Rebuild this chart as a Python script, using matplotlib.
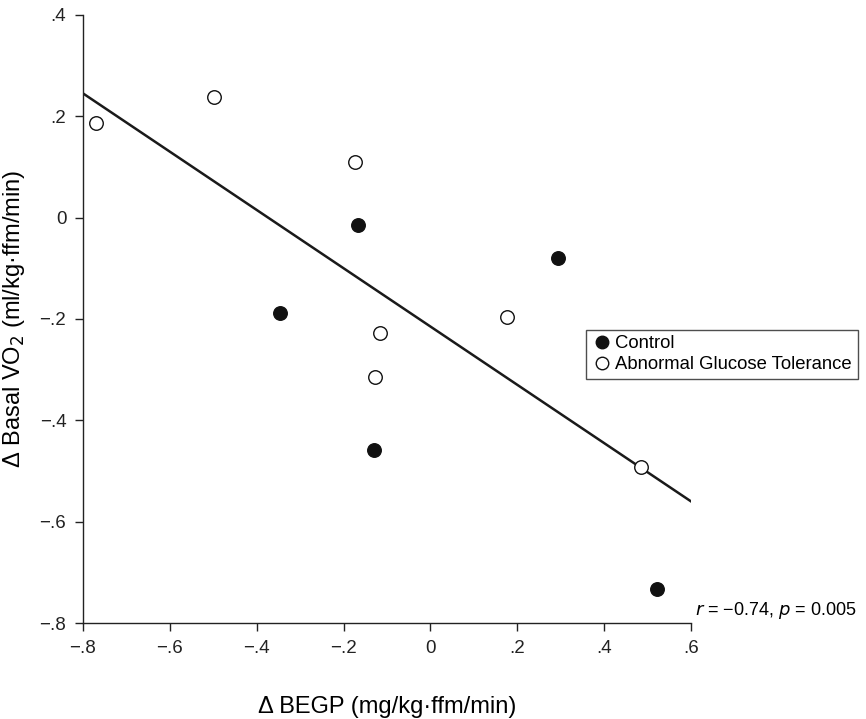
import matplotlib.pyplot as plt
from matplotlib.lines import Line2D

plt.rcParams['font.family'] = ['Liberation Sans', 'DejaVu Sans']

# data
control_x = [-0.167, -0.347, 0.294, -0.130, 0.521]
control_y = [-0.014, -0.189, -0.079, -0.459, -0.733]

agt_x = [-0.771, -0.498, -0.174, -0.116, -0.127, 0.176, 0.486]
agt_y = [0.187, 0.238, 0.110, -0.227, -0.315, -0.197, -0.493]

fit_x = [-0.8, 0.6]
fit_y = [0.245, -0.56]

xticks = [-0.8, -0.6, -0.4, -0.2, 0.0, 0.2, 0.4, 0.6]
xtick_labels = ['\u2212.8', '\u2212.6', '\u2212.4', '\u2212.2', '0', '.2', '.4', '.6']
yticks = [-0.8, -0.6, -0.4, -0.2, 0.0, 0.2, 0.4]
ytick_labels = ['\u2212.8', '\u2212.6', '\u2212.4', '\u2212.2', '0', '.2', '.4']

fig = plt.figure(figsize=(8.66, 7.19), dpi=100)
ax = fig.add_axes([0.0958, 0.1335, 0.7021, 0.8459])

ax.plot(fit_x, fit_y, color='#1a1a1a', lw=1.8, zorder=1)
ax.scatter(control_x, control_y, s=95, facecolor='#111111', edgecolor='#111111',
           lw=1.0, zorder=3)
ax.scatter(agt_x, agt_y, s=95, facecolor='white', edgecolor='#111111',
           lw=1.0, zorder=3)

ax.set_xlim(-0.8, 0.6)
ax.set_ylim(-0.8, 0.4)
ax.set_xticks(xticks)
ax.set_xticklabels(xtick_labels)
ax.set_yticks(yticks)
ax.set_yticklabels(ytick_labels)
ax.tick_params(direction='out', length=6, width=1, labelsize=13.5, pad=6,
               colors='#222222')
for s in ['top', 'right']:
    ax.spines[s].set_visible(False)
for s in ['left', 'bottom']:
    ax.spines[s].set_linewidth(1.0)
    ax.spines[s].set_color('#222222')

ax.set_xlabel('\u0394 BEGP (mg/kg\u00b7ffm/min)', fontsize=17, labelpad=28)
ax.set_ylabel('\u0394 Basal VO$_2$ (ml/kg\u00b7ffm/min)', fontsize=17, labelpad=9)

handles = [
    Line2D([], [], marker='o', ls='none', markersize=9, markerfacecolor='#111111',
           markeredgecolor='#111111', label='Control'),
    Line2D([], [], marker='o', ls='none', markersize=9, markerfacecolor='white',
           markeredgecolor='#111111', label='Abnormal Glucose Tolerance'),
]
leg = ax.legend(handles=handles, loc='upper left', bbox_to_anchor=(0.827, 0.482),
                fontsize=13.3, frameon=True, fancybox=False, handletextpad=0.1,
                handlelength=1.2, borderpad=0.3, labelspacing=0.2,
                borderaxespad=0)
leg.get_frame().set_edgecolor('#222222')
leg.get_frame().set_linewidth(1.0)

ax.text(1.007, 0.004, '$r$ = \u22120.74, $p$ = 0.005', transform=ax.transAxes,
        fontsize=13, ha='left', va='bottom', clip_on=False)

fig.savefig('out.png', dpi=100, facecolor='white')
